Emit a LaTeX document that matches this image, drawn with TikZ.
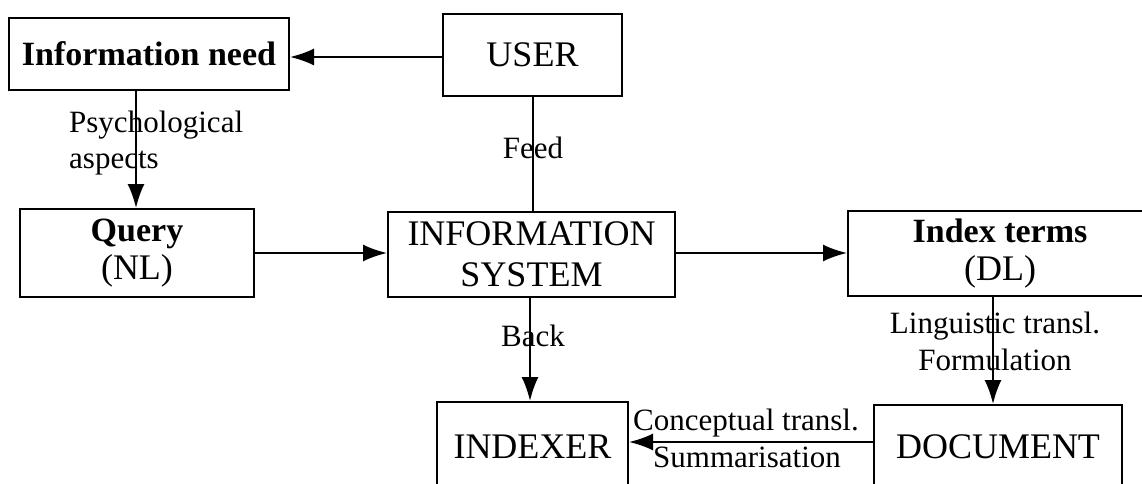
\documentclass[tikz,border=0pt]{standalone}
\usepackage{fontspec}
\setmainfont{Liberation Serif}
\usetikzlibrary{arrows.meta}
\newcommand{\bx}[1]{{\fontsize{34}{38}\selectfont\bfseries #1}}
\begin{document}
\begin{tikzpicture}[x=1pt,y=-1pt,
  box/.style={draw, line width=2pt, inner sep=0pt, align=center,
    font=\fontsize{36}{38}\selectfont},
  lab/.style={inner sep=0pt, font=\fontsize{31}{37}\selectfont},
  conn/.style={line width=2pt},
  arr/.style={conn, -{Latex[length=24pt,width=17pt]}}]
\useasboundingbox (0,0) rectangle (1142,484);
\clip (0,0) rectangle (1142,484);
% boxes
\node[box, minimum width=280pt, minimum height=72pt] (need) at (149,54) {\bx{Information need}};
\node[box, minimum width=179pt, minimum height=82pt] (user) at (532.5,55) {USER};
\node[box, minimum width=234pt, minimum height=88pt] (query) at (137,253) {\bx{Query}\\(NL)};
\node[box, minimum width=287pt, minimum height=85pt] (sys) at (531.5,254) {INFORMATION\\[3pt]SYSTEM};
\node[box, minimum width=304pt, minimum height=85pt] (terms) at (1000,253.5) {\bx{Index terms}\\(DL)};
\node[box, minimum width=248pt, minimum height=83pt] (doc) at (998,446.5) {DOCUMENT};
\node[box, minimum width=191pt, minimum height=90pt] (indexer) at (532.5,447) {INDEXER};
% connectors
\draw[arr] ([yshift=-2pt]user.west) -- ([yshift=-2pt]user.west -| need.east);
\draw[arr] ([xshift=-13pt]need.south) -- ([xshift=-13pt]need.south |- query.north);
\draw[arr] (query.east) -- (query.east -| sys.west);
\draw[conn] (user.south) -- (user.south |- sys.north);
\draw[arr] ([yshift=1pt]sys.east) -- ([yshift=1pt]sys.east -| terms.west);
\draw[arr] ([xshift=-1.5pt]sys.south) -- ([xshift=-1.5pt]sys.south |- indexer.north);
\draw[arr] ([xshift=-7pt]terms.south) -- ([xshift=-7pt]terms.south |- doc.north);
\draw[arr] ([yshift=4.5pt]doc.west) -- ([yshift=4.5pt]doc.west -| indexer.east);
% labels
\node[lab, anchor=base west] (psy1) at (69,132) {Psychological};
\node[lab, anchor=base west] (psy2) at (69,168) {aspects};
\node[lab, anchor=base] (feed) at (533,158) {Feed};
\node[lab, anchor=base] (back) at (533,346) {Back};
\node[lab, anchor=base] (ling) at (995,333) {Linguistic transl.};
\node[lab, anchor=base] (form) at (995,370) {Formulation};
\node[lab, anchor=base] (conc) at (746,430) {Conceptual transl.};
\node[lab, anchor=base] (summ) at (747,467) {Summarisation};
\end{tikzpicture}
\end{document}
